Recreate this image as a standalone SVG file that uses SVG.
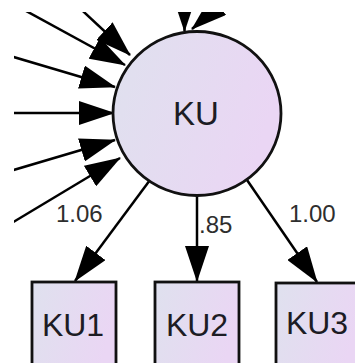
<svg xmlns="http://www.w3.org/2000/svg" width="355" height="363" viewBox="0 0 355 363">
<style>
.edge{stroke:#000;stroke-width:2.5;fill:none;marker-end:url(#ah)}
.node{stroke:#111;stroke-width:2.8}
.lbl{font-family:"Liberation Sans",Arial,sans-serif;fill:#1c1c24;text-anchor:middle}
.num{font-family:"Liberation Sans",Arial,sans-serif;font-size:24px;fill:#2e2e2e}
</style>
<defs>
<linearGradient id="g" x1="0" y1="0" x2="1" y2="0.3">
<stop offset="0" stop-color="#dfe1ee"/>
<stop offset="1" stop-color="#ead6f4"/>
</linearGradient>
<marker id="ah" markerUnits="userSpaceOnUse" markerWidth="36" markerHeight="24" refX="35" refY="12" orient="auto">
<path d="M0,0 L36,12 L0,24 z" fill="#000"/>
</marker>
<clipPath id="clip"><rect x="14" y="12" width="341" height="351"/></clipPath>
</defs>
<rect width="355" height="363" fill="#fff"/>
<g id="connectors" clip-path="url(#clip)">
<line class="edge" x1="6" y1="0" x2="125" y2="65"/>
<line class="edge" x1="71" y1="0" x2="130" y2="55"/>
<line class="edge" x1="0" y1="53" x2="115" y2="87"/>
<line class="edge" x1="0" y1="113" x2="114" y2="113"/>
<line class="edge" x1="0" y1="174" x2="115" y2="140"/>
<line class="edge" x1="0" y1="230" x2="120" y2="158"/>
<line class="edge" x1="184.5" y1="-40" x2="184.5" y2="31"/>
<line class="edge" x1="267" y1="-37" x2="192" y2="29"/>
<line class="edge" x1="150" y1="180" x2="75" y2="281"/>
<line class="edge" x1="197" y1="196" x2="197" y2="281"/>
<line class="edge" x1="247" y1="180" x2="317" y2="282"/>
<text class="num" x="56" y="222">1.06</text>
<text class="num" x="199" y="233">.85</text>
<text class="num" x="289" y="222">1.00</text>
</g>
<g id="KU">
<ellipse class="node" cx="197" cy="113.5" rx="84" ry="82" fill="url(#g)"/>
<text class="lbl" x="196" y="125" font-size="33">KU</text>
</g>
<g id="KU1">
<rect class="node" x="32" y="282" width="84" height="95" fill="url(#g)"/>
<text class="lbl" x="73" y="336" font-size="32">KU1</text>
</g>
<g id="KU2">
<rect class="node" x="155" y="282" width="84" height="95" fill="url(#g)"/>
<text class="lbl" x="197" y="336" font-size="32">KU2</text>
</g>
<g id="KU3">
<rect class="node" x="276" y="283" width="84" height="95" fill="url(#g)"/>
<text class="lbl" x="317" y="334" font-size="32">KU3</text>
</g>
</svg>
